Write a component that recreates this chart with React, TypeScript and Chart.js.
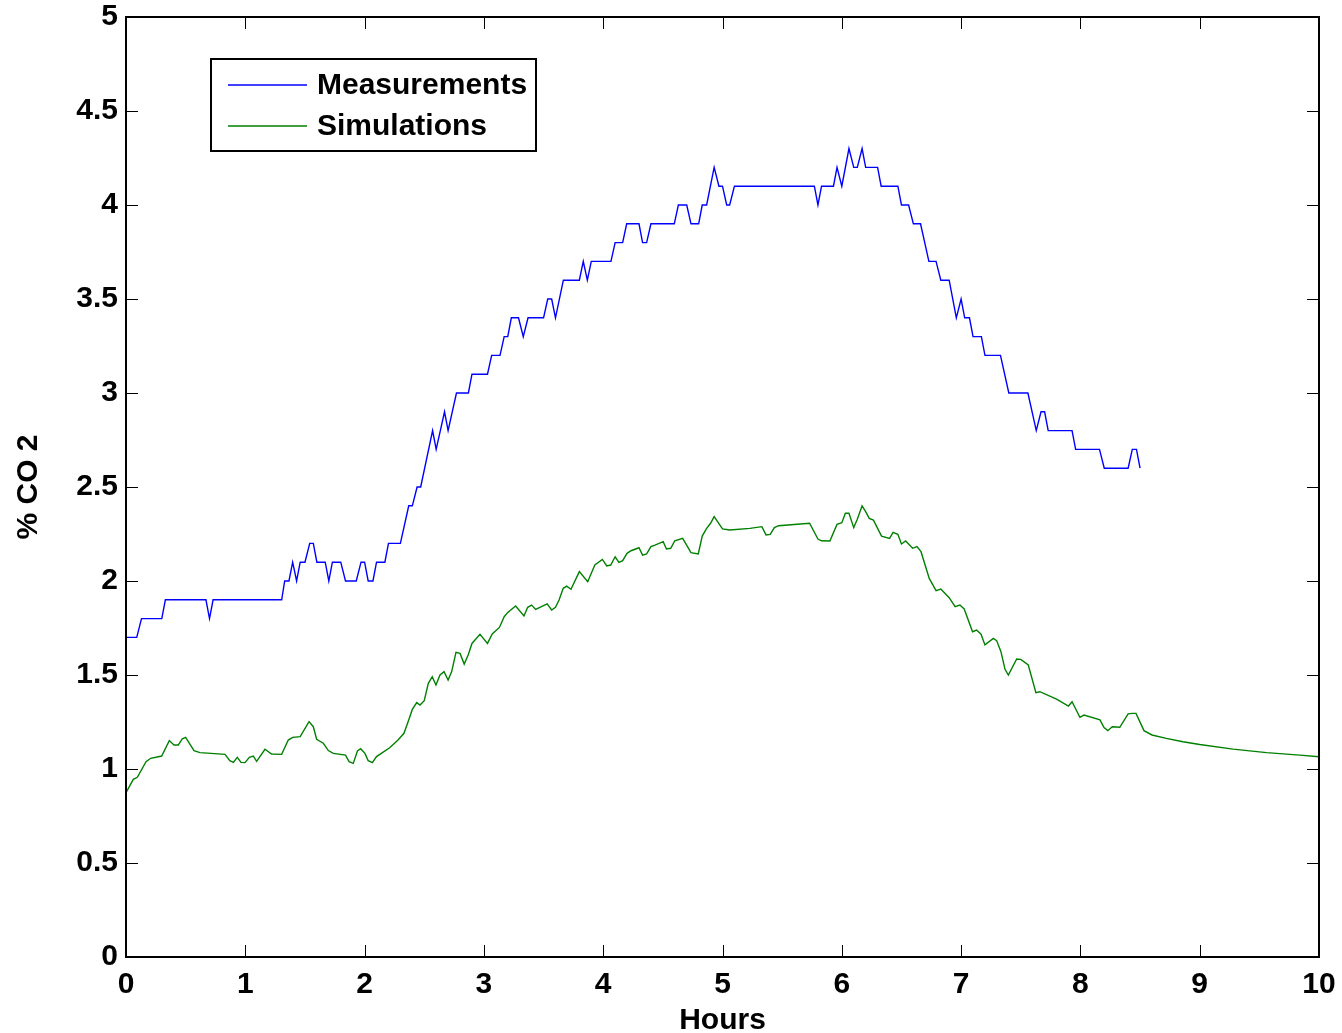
import React, { useEffect, useRef } from "react";
import { Chart, registerables } from "chart.js";

Chart.register(...registerables);

// Measured CO2 concentration (%), vertices of the logged step trace
const measHours = [
  0, 0.09, 0.13, 0.3, 0.33, 0.67, 0.7, 0.73, 1.305, 1.33, 1.366, 1.397, 1.43, 1.46, 1.5, 1.54, 1.57, 1.6, 1.67, 1.7,
  1.73, 1.8, 1.84, 1.93, 1.97, 2.0, 2.03, 2.07, 2.1, 2.17, 2.2, 2.3, 2.37, 2.4, 2.44, 2.47, 2.57, 2.6, 2.67, 2.7,
  2.77, 2.87, 2.9, 3.03, 3.065, 3.135, 3.17, 3.2, 3.23, 3.29, 3.33, 3.37, 3.5, 3.535, 3.568, 3.6, 3.666, 3.8, 3.833, 3.867,
  3.9, 4.065, 4.1, 4.163, 4.197, 4.3, 4.33, 4.364, 4.4, 4.596, 4.63, 4.7, 4.736, 4.8, 4.83, 4.867, 4.93, 4.97, 5.0, 5.035,
  5.06, 5.1, 5.77, 5.8, 5.83, 5.93, 5.96, 6.0, 6.06, 6.1, 6.13, 6.17, 6.2, 6.3, 6.33, 6.47, 6.5, 6.56, 6.6, 6.66,
  6.73, 6.79, 6.83, 6.9, 6.96, 7.0, 7.03, 7.07, 7.1, 7.17, 7.2, 7.33, 7.4, 7.56, 7.63, 7.67, 7.7, 7.73, 7.93, 7.96,
  8.16, 8.2, 8.4, 8.435, 8.47, 8.5,
];
const measCO2 = [
  1.7, 1.7, 1.8, 1.8, 1.9, 1.9, 1.8, 1.9, 1.9, 2.0, 2.0, 2.1, 2.0, 2.1, 2.1, 2.2, 2.2, 2.1, 2.1, 2.0,
  2.1, 2.1, 2.0, 2.0, 2.1, 2.1, 2.0, 2.0, 2.1, 2.1, 2.2, 2.2, 2.4, 2.4, 2.5, 2.5, 2.8, 2.7, 2.9, 2.8,
  3.0, 3.0, 3.1, 3.1, 3.2, 3.2, 3.3, 3.3, 3.4, 3.4, 3.3, 3.4, 3.4, 3.5, 3.5, 3.4, 3.6, 3.6, 3.7, 3.6,
  3.7, 3.7, 3.8, 3.8, 3.9, 3.9, 3.8, 3.8, 3.9, 3.9, 4.0, 4.0, 3.9, 3.9, 4.0, 4.0, 4.2, 4.1, 4.1, 4.0,
  4.0, 4.1, 4.1, 4.0, 4.1, 4.1, 4.2, 4.1, 4.3, 4.2, 4.2, 4.3, 4.2, 4.2, 4.1, 4.1, 4.0, 4.0, 3.9, 3.9,
  3.7, 3.7, 3.6, 3.6, 3.4, 3.5, 3.4, 3.4, 3.3, 3.3, 3.2, 3.2, 3.0, 3.0, 2.8, 2.9, 2.9, 2.8, 2.8, 2.7,
  2.7, 2.6, 2.6, 2.7, 2.7, 2.6,
];

// Simulated CO2 concentration (%)
const simHours = [
  0, 0.028, 0.061, 0.095, 0.168, 0.207, 0.299, 0.363, 0.402, 0.439, 0.472, 0.5, 0.57, 0.62, 0.83, 0.87, 0.9, 0.933, 0.964, 0.997,
  1.034, 1.067, 1.095, 1.165, 1.22, 1.305, 1.36, 1.397, 1.46, 1.534, 1.57, 1.598, 1.654, 1.696, 1.738, 1.84, 1.87, 1.905, 1.94, 1.967,
  2.003, 2.03, 2.065, 2.1, 2.14, 2.21, 2.28, 2.33, 2.375, 2.4, 2.437, 2.464, 2.5, 2.534, 2.567, 2.598, 2.632, 2.666, 2.7, 2.73,
  2.766, 2.8, 2.835, 2.868, 2.9, 2.967, 3.03, 3.07, 3.13, 3.17, 3.2, 3.266, 3.336, 3.367, 3.4, 3.434, 3.53, 3.568, 3.6, 3.63,
  3.665, 3.694, 3.73, 3.8, 3.87, 3.93, 3.993, 4.03, 4.063, 4.1, 4.132, 4.163, 4.2, 4.233, 4.3, 4.33, 4.364, 4.4, 4.434, 4.503,
  4.53, 4.566, 4.6, 4.666, 4.736, 4.797, 4.83, 4.867, 4.9, 4.93, 5.0, 5.06, 5.23, 5.33, 5.365, 5.4, 5.435, 5.47, 5.73, 5.8,
  5.83, 5.9, 5.96, 6.0, 6.03, 6.06, 6.1, 6.13, 6.17, 6.2, 6.23, 6.265, 6.333, 6.4, 6.43, 6.47, 6.5, 6.535, 6.594, 6.63,
  6.664, 6.733, 6.79, 6.83, 6.9, 6.95, 6.99, 7.026, 7.096, 7.13, 7.167, 7.2, 7.27, 7.298, 7.334, 7.368, 7.396, 7.466, 7.5, 7.563,
  7.627, 7.66, 7.8, 7.9, 7.93, 7.996, 8.03, 8.164, 8.198, 8.23, 8.267, 8.33, 8.4, 8.435, 8.466, 8.533, 8.6, 8.72, 8.86, 9.0,
  9.28, 9.56, 9.84, 10,
];
const simCO2 = [
  0.874, 0.906, 0.945, 0.956, 1.039, 1.057, 1.069, 1.151, 1.128, 1.128, 1.161, 1.168, 1.098, 1.087, 1.078, 1.044, 1.035, 1.062, 1.035, 1.034,
  1.062, 1.069, 1.041, 1.105, 1.08, 1.078, 1.154, 1.168, 1.172, 1.252, 1.225, 1.158, 1.137, 1.098, 1.083, 1.074, 1.039, 1.03, 1.096, 1.108,
  1.083, 1.044, 1.034, 1.066, 1.083, 1.113, 1.154, 1.19, 1.27, 1.317, 1.353, 1.34, 1.363, 1.456, 1.491, 1.447, 1.5, 1.518, 1.473, 1.518,
  1.62, 1.615, 1.558, 1.606, 1.668, 1.716, 1.668, 1.718, 1.753, 1.81, 1.833, 1.867, 1.814, 1.86, 1.872, 1.849, 1.878, 1.846, 1.86, 1.899,
  1.961, 1.973, 1.956, 2.05, 1.996, 2.085, 2.115, 2.08, 2.085, 2.129, 2.099, 2.108, 2.147, 2.161, 2.177, 2.138, 2.144, 2.183, 2.191, 2.209,
  2.17, 2.174, 2.214, 2.227, 2.151, 2.144, 2.239, 2.28, 2.307, 2.342, 2.277, 2.271, 2.28, 2.289, 2.245, 2.248, 2.284, 2.294, 2.307, 2.223,
  2.214, 2.213, 2.301, 2.31, 2.36, 2.36, 2.284, 2.328, 2.4, 2.369, 2.333, 2.324, 2.239, 2.227, 2.259, 2.248, 2.197, 2.213, 2.174, 2.183,
  2.156, 2.014, 1.949, 1.957, 1.911, 1.864, 1.872, 1.851, 1.73, 1.739, 1.717, 1.66, 1.695, 1.683, 1.624, 1.53, 1.5, 1.585, 1.583, 1.553,
  1.406, 1.411, 1.372, 1.335, 1.358, 1.275, 1.287, 1.261, 1.22, 1.204, 1.225, 1.222, 1.293, 1.296, 1.296, 1.204, 1.181, 1.163, 1.145, 1.13,
  1.106, 1.087, 1.074, 1.065,
];

const seriesNames = ["Measurements", "Simulations"];
const seriesColors = ["#0000ff", "#008000"];

const xTicks = [0, 1, 2, 3, 4, 5, 6, 7, 8, 9, 10];
const yTicks = [0, 0.5, 1, 1.5, 2, 2.5, 3, 3.5, 4, 4.5, 5];

const FONT_FAMILY = "'Liberation Sans', Arial, Helvetica, sans-serif";
const FONT_SIZE = 30;

const toPoints = (xs: number[], ys: number[]) => xs.map((x, i) => ({ x, y: ys[i] }));

// Box frame with inward tick marks on all four sides, plus the boxed legend
const framePlugin = {
  id: "matlabFrame",
  beforeDraw(chart: any) {
    const ctx = chart.ctx;
    ctx.save();
    ctx.fillStyle = "#ffffff";
    ctx.fillRect(0, 0, chart.width, chart.height);
    ctx.restore();
  },
  afterDraw(chart: any) {
    const { ctx, chartArea: a, scales } = chart;
    const tickLen = 12;
    ctx.save();
    ctx.strokeStyle = "#000000";
    ctx.lineWidth = 1;
    ctx.beginPath();
    for (const v of xTicks) {
      const px = Math.round(scales.x.getPixelForValue(v)) + 0.5;
      ctx.moveTo(px, a.bottom);
      ctx.lineTo(px, a.bottom - tickLen);
      ctx.moveTo(px, a.top);
      ctx.lineTo(px, a.top + tickLen);
    }
    for (const v of yTicks) {
      const py = Math.round(scales.y.getPixelForValue(v)) + 0.5;
      ctx.moveTo(a.left, py);
      ctx.lineTo(a.left + tickLen, py);
      ctx.moveTo(a.right, py);
      ctx.lineTo(a.right - tickLen, py);
    }
    ctx.stroke();

    ctx.lineWidth = 2;
    ctx.strokeRect(a.left, a.top, a.right - a.left, a.bottom - a.top);

    // legend
    const bx = 211, by = 59, bw = 325, bh = 92;
    ctx.fillStyle = "#ffffff";
    ctx.fillRect(bx, by, bw, bh);
    ctx.lineWidth = 2;
    ctx.strokeStyle = "#000000";
    ctx.strokeRect(bx, by, bw, bh);
    const rows = [85, 126];
    ctx.font = `bold ${FONT_SIZE}px ${FONT_FAMILY}`;
    ctx.textBaseline = "middle";
    ctx.textAlign = "left";
    rows.forEach((ry, i) => {
      ctx.strokeStyle = seriesColors[i];
      ctx.lineWidth = 1.5;
      ctx.beginPath();
      ctx.moveTo(228, ry);
      ctx.lineTo(307, ry);
      ctx.stroke();
      ctx.fillStyle = "#000000";
      ctx.fillText(seriesNames[i], 317, ry + 1);
    });
    ctx.restore();
  },
};

export default function App() {
  const canvasRef = useRef<HTMLCanvasElement | null>(null);

  useEffect(() => {
    const canvas = canvasRef.current;
    if (!canvas) return;
    const tickFont = { family: FONT_FAMILY, size: FONT_SIZE, weight: "bold" as const };
    const noGrid = { display: false, drawTicks: false, tickLength: 0 };

    const chart = new Chart(canvas, {
      type: "line",
      data: {
        datasets: [
          {
            label: seriesNames[0],
            data: toPoints(measHours, measCO2),
            borderColor: seriesColors[0],
            borderWidth: 1.4,
            pointRadius: 0,
            tension: 0,
            fill: false,
          },
          {
            label: seriesNames[1],
            data: toPoints(simHours, simCO2),
            borderColor: seriesColors[1],
            borderWidth: 1.4,
            pointRadius: 0,
            tension: 0,
            fill: false,
          },
        ],
      },
      options: {
        responsive: false,
        animation: false,
        events: [],
        layout: { padding: { top: 17, right: 23, left: 0, bottom: 0 } },
        plugins: {
          legend: { display: false },
          tooltip: { enabled: false },
        },
        scales: {
          x: {
            type: "linear",
            min: 0,
            max: 10,
            afterFit: (scale: any) => {
              scale.height = 76;
              scale.paddingLeft = 0;
              scale.paddingRight = 0;
            },
            afterBuildTicks: (scale: any) => {
              scale.ticks = xTicks.map((v) => ({ value: v }));
            },
            grid: noGrid,
            border: { display: false },
            ticks: {
              font: tickFont,
              color: "#000000",
              padding: 10,
              maxRotation: 0,
              autoSkip: false,
              callback: (v: any) => String(v),
            },
            title: {
              display: true,
              text: "Hours",
              font: tickFont,
              color: "#000000",
              padding: { top: 0, bottom: -6 },
            },
          },
          y: {
            type: "linear",
            min: 0,
            max: 5,
            afterFit: (scale: any) => {
              scale.width = 126;
              scale.paddingTop = 0;
              scale.paddingBottom = 0;
            },
            afterBuildTicks: (scale: any) => {
              scale.ticks = yTicks.map((v) => ({ value: v }));
            },
            grid: noGrid,
            border: { display: false },
            ticks: {
              font: tickFont,
              color: "#000000",
              padding: 8,
              autoSkip: false,
              callback: (v: any) => String(v),
            },
            title: {
              display: true,
              text: "% CO 2",
              font: tickFont,
              color: "#000000",
              padding: { top: 11, bottom: 0 },
            },
          },
        },
      },
      plugins: [framePlugin],
    });

    return () => chart.destroy();
  }, []);

  return (
    <div style={{ position: "absolute", left: 0, top: 0, width: 1342, height: 1033, background: "#ffffff" }}>
      <canvas ref={canvasRef} width={1342} height={1033} style={{ display: "block" }} />
    </div>
  );
}
